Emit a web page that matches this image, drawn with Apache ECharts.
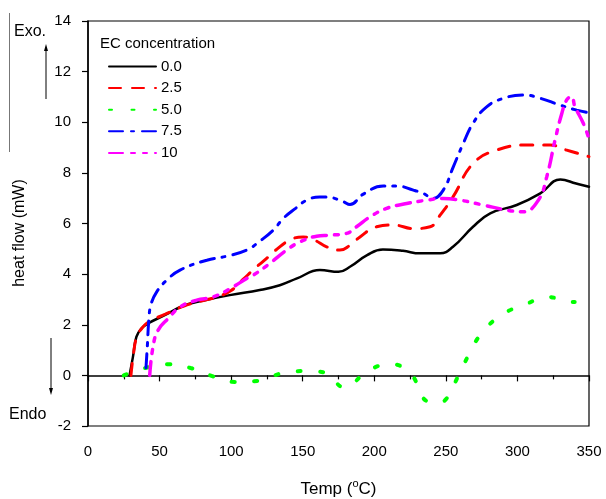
<!DOCTYPE html>
<html>
<head>
<meta charset="utf-8">
<script src="https://cdn.jsdelivr.net/npm/echarts@6/dist/echarts.min.js"></script>
<style>
  html, body { margin: 0; padding: 0; background: #fff; }
  #main { width: 606px; height: 499px; }
</style>
</head>
<body>
<div id="main"></div>
<script>
// EC concentration series (temperature in degC, heat flow in mW)
const seriesNames = ['0.0', '2.5', '5.0', '7.5', '10'];

const temp00 = [29, 31.4, 33.8, 37.3, 41.9, 53.6, 67.5, 80, 99, 120, 134, 146, 162, 175, 183, 195, 206, 220, 232, 246, 255, 269, 281, 299.5, 316, 330, 341, 350];
const heat00 = [0, 0.73, 1.52, 1.85, 2.05, 2.38, 2.77, 2.95, 3.17, 3.37, 3.56, 3.83, 4.16, 4.09, 4.29, 4.75, 4.97, 4.92, 4.82, 4.82, 5.08, 5.87, 6.4, 6.73, 7.19, 7.74, 7.58, 7.45];

const temp25 = [30, 31.5, 34, 37.5, 42, 54, 67.5, 80, 90, 100, 108.5, 117, 124.8, 130, 143.5, 150.4, 158, 166.7, 176, 183, 190, 201.6, 213.3, 227.3, 239, 246, 255, 269, 285.5, 306.5, 322.8, 334.4, 350];
const heat25 = [0, 0.73, 1.52, 1.85, 2.1, 2.42, 2.75, 2.95, 3.1, 3.35, 3.8, 4.25, 4.62, 4.9, 5.41, 5.47, 5.35, 5.08, 4.95, 5.14, 5.47, 5.87, 5.94, 5.8, 5.87, 6.33, 7.05, 8.37, 8.9, 9.1, 9.1, 8.9, 8.64];

const temp50 = [25, 40, 55.9, 71.7, 87.3, 103, 118.8, 134.6, 150.4, 165.8, 179, 196, 211.9, 226.4, 234, 243, 250, 258, 265.8, 275.3, 290, 305.8, 321, 337, 340];
const heat50 = [0, 0.29, 0.44, 0.29, -0.04, -0.26, -0.22, 0.07, 0.17, 0.11, -0.48, 0.2, 0.44, -0.01, -0.89, -1.08, -0.95, -0.1, 0.79, 1.69, 2.42, 2.81, 3.1, 2.9, 2.9];

const temp75 = [40.5, 41.5, 42.5, 44, 48, 55, 64.3, 83, 96.9, 110.9, 120, 129.5, 136.4, 145, 152.8, 162, 169, 178.4, 183, 192.3, 206.3, 215.6, 227.3, 234.2, 241, 248.2, 255.2, 262.2, 269, 278.5, 290, 304, 315.8, 329.7, 341.4, 350];
const heat75 = [0.3, 1.2, 2.2, 2.8, 3.3, 3.76, 4.16, 4.55, 4.71, 4.95, 5.3, 5.74, 6.2, 6.6, 6.92, 7.05, 7.03, 6.86, 6.75, 7.16, 7.48, 7.48, 7.32, 7.19, 6.99, 7.32, 8.24, 9.17, 9.96, 10.61, 10.94, 11.08, 10.95, 10.68, 10.48, 10.38];

const temp10 = [43.1, 45.4, 48.9, 55.9, 64.3, 75.9, 87.6, 101.5, 110.9, 115.5, 127, 138.7, 148, 159.7, 169, 180.6, 187.6, 197, 208.6, 222.6, 236.5, 248.2, 260, 276, 292.5, 304, 314.6, 320.5, 326.3, 331, 334.4, 337.8, 340.2, 346, 350];
const heat10 = [0, 1.12, 1.78, 2.24, 2.7, 2.97, 3.1, 3.5, 3.83, 3.96, 4.42, 4.95, 5.27, 5.5, 5.54, 5.61, 5.87, 6.26, 6.6, 6.79, 6.92, 6.99, 6.92, 6.73, 6.53, 6.46, 6.92, 7.85, 9.3, 10.35, 10.88, 11.01, 10.61, 9.96, 9.35];

const xTicks = { min: 0, max: 350, interval: 50 };
const yTicks = { min: -2, max: 14, interval: 2 };

function pairs(xs, ys) {
    return xs.map(function (x, i) { return [x, ys[i]]; });
}

const font = 'Liberation Sans, Arial, sans-serif';

let myChart = echarts.init(document.getElementById('main'), null, { renderer: 'canvas' });

function lineSeries(name, xs, ys, color, width, dash) {
    return {
        name: name,
        type: 'line',
        data: pairs(xs, ys),
        showSymbol: false,
        symbol: 'none',
        smooth: 0.45,
        animation: false,
        lineStyle: {
            color: color,
            width: width,
            type: dash,
            cap: 'round'
        },
        itemStyle: { color: color }
    };
}

myChart.setOption({
    backgroundColor: '#fff',
    animation: false,
    grid: {
        left: 88,
        right: 17,
        top: 21,
        bottom: 73,
        outerBoundsMode: 'none',
        containLabel: false,
        show: true,
        borderColor: '#000',
        borderWidth: 1.2
    },
    legend: {
        orient: 'vertical',
        left: 103,
        top: 54,
        itemWidth: 47,
        itemHeight: 14,
        itemGap: 6.6,
        data: seriesNames,
        itemStyle: { opacity: 0 },
        textStyle: { fontFamily: font, fontSize: 15, color: '#000' }
    },
    xAxis: {
        type: 'value',
        min: xTicks.min,
        max: xTicks.max,
        interval: xTicks.interval,
        splitLine: { show: false },
        axisLine: { lineStyle: { color: '#000', width: 1.5 } },
        axisTick: { inside: false, length: 6, lineStyle: { color: '#000', width: 1.2 } },
        minorTick: { show: true, splitNumber: 2, length: 4, lineStyle: { color: '#000', width: 1.2 } },
        axisLabel: { fontFamily: font, fontSize: 15, color: '#000', margin: 18 },
        name: '{a|Temp (}{s|o}{a|C)}',
        nameLocation: 'middle',
        nameGap: 52,
        nameTextStyle: {
            rich: {
                a: { fontFamily: font, fontSize: 17, color: '#000', lineHeight: 22 },
                s: { fontFamily: font, fontSize: 11, color: '#000', verticalAlign: 'top', lineHeight: 12 }
            }
        }
    },
    yAxis: {
        type: 'value',
        min: yTicks.min,
        max: yTicks.max,
        interval: yTicks.interval,
        splitLine: { show: false },
        axisLine: { show: true, lineStyle: { color: '#000', width: 1.5 } },
        axisTick: { show: true, inside: false, length: 6, lineStyle: { color: '#000', width: 1.2 } },
        axisLabel: { fontFamily: font, fontSize: 15, color: '#000', margin: 17 }
    },
    graphic: [
        {
            type: 'text', left: 100, top: 36,
            style: { text: 'EC concentration', font: '15px ' + font, fill: '#000' }
        },
        {
            type: 'text', left: 14, top: 24,
            style: { text: 'Exo.', font: '16px ' + font, fill: '#000' }
        },
        {
            type: 'text', left: 9, top: 407,
            style: { text: 'Endo', font: '16px ' + font, fill: '#000' }
        },
        {
            type: 'text', x: 20, y: 233, rotation: Math.PI / 2,
            style: { text: 'heat flow (mW)', font: '16px ' + font, fill: '#000', align: 'center', verticalAlign: 'middle' }
        },
        // overline at far left
        { type: 'line', shape: { x1: 9.5, y1: 13, x2: 9.5, y2: 152 }, style: { stroke: '#777', lineWidth: 1 } },
        // Exo arrow
        { type: 'line', shape: { x1: 46, y1: 99, x2: 46, y2: 50 }, style: { stroke: '#000', lineWidth: 1 } },
        { type: 'polygon', shape: { points: [[46, 44], [44, 51], [48, 51]] }, style: { fill: '#000' } },
        // Endo arrow
        { type: 'line', shape: { x1: 51, y1: 338, x2: 51, y2: 389 }, style: { stroke: '#000', lineWidth: 1 } },
        { type: 'polygon', shape: { points: [[51, 395], [49, 388], [53, 388]] }, style: { fill: '#000' } }
    ],
    series: [
        lineSeries(seriesNames[0], temp00, heat00, '#000000', 2.5, 'solid'),
        lineSeries(seriesNames[1], temp25, heat25, '#ff0000', 3, [12, 11]),
        lineSeries(seriesNames[2], temp50, heat50, '#00ff00', 4, [3, 19.5]),
        lineSeries(seriesNames[3], temp75, heat75, '#0000ff', 3, [14, 8, 3, 8]),
        lineSeries(seriesNames[4], temp10, heat10, '#ff00ff', 3.5, [14, 8, 4, 8, 4, 8])
    ]
});

window.addEventListener('resize', function () {
    myChart.resize();
});
</script>
</body>
</html>
